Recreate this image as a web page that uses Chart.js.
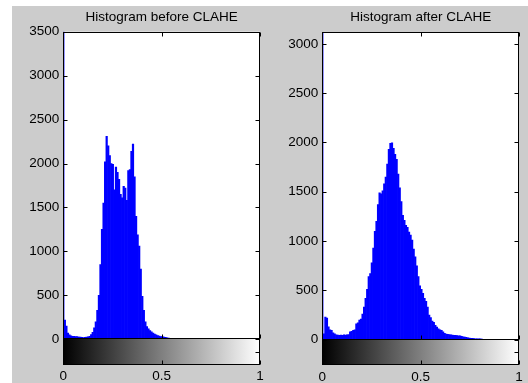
<!DOCTYPE html>
<html>
<head>
<meta charset="utf-8">
<script src="https://cdn.jsdelivr.net/npm/chart.js@4/dist/chart.umd.min.js"></script>
<style>
	html, body { margin: 0; padding: 0; background: #fff; }
	#fig { position: absolute; left: 12px; top: 6px; width: 516px; height: 377px; background: #cccccc; }
	canvas { position: absolute; top: 0; }
	#left { left: 0; }
	#right { left: 264px; }
</style>
</head>
<body>
<div id="fig"></div>
<canvas id="left" width="264" height="383"></canvas>
<canvas id="right" width="264" height="383"></canvas>
<script>
// intensity bins (128 bins over 0..1)
const binCount = 128;
const binCenters = Array.from({ length: binCount }, (_, k) => k / (binCount - 1));

const xTicks = [0, 0.5, 1];
const yTicksBefore = [0, 500, 1000, 1500, 2000, 2500, 3000, 3500];
const yTicksAfter = [0, 500, 1000, 1500, 2000, 2500, 3000];

const countsBefore = [
	3600, 220, 150, 70, 50, 40, 35, 35, 30, 30, 25, 25, 22, 20, 22, 25,
	28, 35, 55, 80, 130, 200, 330, 500, 850, 1250, 1550, 2020, 2310, 2200, 2090, 2000,
	1990, 1700, 1960, 1900, 1820, 1650, 1610, 1740, 1720, 1580, 1920, 1930, 2140, 2220, 1850, 1400,
	1190, 1060, 800, 490, 330, 200, 145, 120, 100, 85, 70, 60, 50, 42, 38, 32,
	30, 26, 22, 18, 15, 12, 9, 6, 4, 2, 0, 0, 0, 0, 0, 0,
	0, 0, 0, 0, 0, 0, 0, 0, 0, 0, 0, 0, 0, 0, 0, 0,
	0, 0, 0, 0, 0, 0, 0, 0, 0, 0, 0, 0, 0, 0, 0, 0,
	0, 0, 0, 0, 0, 0, 0, 0, 0, 0, 0, 0, 0, 0, 0, 0
];

const countsAfter = [
	3200, 60, 230, 220, 130, 100, 95, 70, 60, 50, 48, 45, 48, 45, 50, 48,
	50, 52, 80, 85, 95, 100, 160, 170, 200, 210, 260, 330, 420, 510, 640, 670,
	780, 930, 1100, 1200, 1370, 1490, 1480, 1510, 1580, 1650, 1780, 1930, 1990, 1995, 1940, 1880,
	1830, 1680, 1540, 1400, 1260, 1210, 1160, 1140, 1090, 1060, 1010, 920, 840, 750, 640, 545,
	510, 470, 420, 390, 330, 250, 225, 190, 175, 145, 128, 110, 100, 95, 80, 65,
	58, 55, 52, 50, 48, 45, 44, 42, 40, 38, 35, 30, 27, 24, 20, 17,
	15, 14, 12, 10, 10, 9, 8, 6, 3, 0, 0, 0, 0, 0, 0, 0,
	0, 0, 0, 0, 0, 0, 0, 0, 0, 0, 0, 0, 0, 0, 0, 0
];

const FONT = { family: "'Liberation Sans', Arial, sans-serif", size: 13.5 };
const TICK = 4;
const BAR_H = 25.4;

// white plot area, matlab style box with inward ticks, gray colorbar under the axes
const matlabAxes = {
	id: 'matlabAxes',
	beforeDraw(chart) {
		const a = chart.chartArea;
		const ctx = chart.ctx;
		ctx.save();
		ctx.fillStyle = '#fff';
		ctx.fillRect(a.left, a.top, a.right - a.left, a.bottom - a.top);
		ctx.restore();
	},
	afterDraw(chart) {
		const a = chart.chartArea;
		const ctx = chart.ctx;
		const xs = chart.scales.x;
		const ys = chart.scales.y;
		const L = Math.round(a.left) + 0.5, R = Math.round(a.right) - 0.5;
		const T = Math.round(a.top) + 0.5, B = Math.round(a.bottom) - 0.5;
		const cbB = Math.round(a.bottom + BAR_H) - 0.5;

		ctx.save();
		// colorbar
		const g = ctx.createLinearGradient(xs.getPixelForValue(0), 0, xs.getPixelForValue(1), 0);
		g.addColorStop(0, '#000');
		g.addColorStop(1, '#fff');
		ctx.fillStyle = g;
		ctx.fillRect(L, B, R - L, cbB - B);

		ctx.strokeStyle = '#000';
		ctx.lineWidth = 1;
		ctx.strokeRect(L, T, R - L, B - T);
		ctx.strokeRect(L, B, R - L, cbB - B);

		ctx.beginPath();
		ys.ticks.forEach(t => {
			const y = Math.round(ys.getPixelForValue(t.value)) + 0.5;
			ctx.moveTo(L, y); ctx.lineTo(L + TICK, y);
			ctx.moveTo(R, y); ctx.lineTo(R - TICK, y);
		});
		xs.ticks.forEach(t => {
			const x = Math.round(xs.getPixelForValue(t.value)) + 0.5;
			ctx.moveTo(x, T); ctx.lineTo(x, T + TICK);
			ctx.moveTo(x, B); ctx.lineTo(x, B - TICK);
			ctx.moveTo(x, cbB); ctx.lineTo(x, cbB - TICK);
		});
		const midY = Math.round((B + cbB) / 2) + 0.5;
		ctx.moveTo(R, midY); ctx.lineTo(R - TICK, midY);
		ctx.stroke();
		ctx.restore();
	}
};

function makeHist(canvasId, title, counts, yTicks, yMax, layout) {
	const ctx = document.getElementById(canvasId).getContext('2d');
	return new Chart(ctx, {
		type: 'bar',
		data: {
			datasets: [{
				data: binCenters.map((x, i) => ({ x: x, y: counts[i] })),
				backgroundColor: '#0000ff',
				borderWidth: 0,
				barPercentage: 1,
				categoryPercentage: 1
			}]
		},
		options: {
			responsive: false,
			animation: false,
			layout: { padding: { left: 0, right: layout.right, top: 0, bottom: 0 } },
			scales: {
				x: {
					type: 'linear',
					min: 0,
					max: 1,
					offset: false,
					afterBuildTicks: s => { s.ticks = xTicks.map(v => ({ value: v })); },
					afterFit: s => { s.height = layout.xh; },
					// labels sit under the colorbar: hidden tick marks push them down
					grid: { display: false, drawTicks: true, tickLength: 29 },
					border: { display: false },
					ticks: { color: '#000', font: FONT, padding: 0, maxRotation: 0, callback: v => String(v) }
				},
				y: {
					type: 'linear',
					min: 0,
					max: yMax,
					afterBuildTicks: s => { s.ticks = yTicks.map(v => ({ value: v })); },
					afterFit: s => { s.width = layout.yw; },
					grid: { display: false, drawTicks: false },
					border: { display: false },
					ticks: { color: '#000', font: FONT, padding: 4, callback: v => String(v) }
				}
			},
			plugins: {
				legend: { display: false },
				tooltip: { enabled: false },
				title: {
					display: true,
					text: title,
					color: '#000',
					font: Object.assign({ weight: 'normal' }, FONT),
					fullSize: false,
					padding: { top: layout.tp, bottom: layout.bp }
				}
			}
		},
		plugins: [matlabAxes]
	});
}

makeHist('left', 'Histogram before CLAHE', countsBefore, yTicksBefore, 3500, { right: 4, yw: 63.3, xh: 43.7, tp: 8.9, bp: 6.6 });
makeHist('right', 'Histogram after CLAHE', countsAfter, yTicksAfter, 3120, { right: 9, yw: 58.3, xh: 43.3, tp: 9, bp: 6.8 });
</script>
</body>
</html>
